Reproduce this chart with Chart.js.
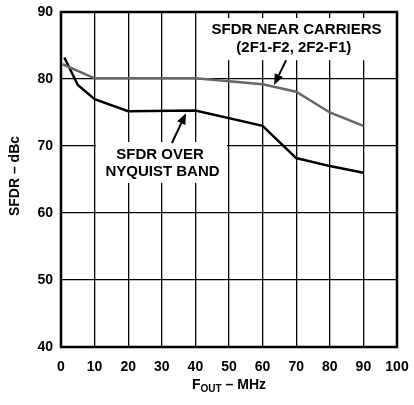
<!DOCTYPE html>
<html>
<head>
<meta charset="utf-8">
<script src="https://cdn.jsdelivr.net/npm/chart.js@4"></script>
<style>
  html, body { margin: 0; padding: 0; background: #fff; }
</style>
</head>
<body>
<canvas id="sfdrChart" width="414" height="405"></canvas>
<script>
// data (F_OUT in MHz, SFDR in dBc)
const nyquistFreq = [1, 5, 10, 20, 40, 60, 70, 80, 90];
const nyquistSfdr = [83.2, 79.1, 77, 75.2, 75.3, 73, 68.2, 67, 66];
const carrierFreq = [0.5, 10, 40, 60, 70, 80, 90];
const carrierSfdr = [82.2, 80.1, 80.1, 79.2, 78.1, 75, 73];
const xTicks = [0, 10, 20, 30, 40, 50, 60, 70, 80, 90, 100];
const yTicks = [40, 50, 60, 70, 80, 90];

const FONT = '"Liberation Sans", Arial, Helvetica, sans-serif';

const toPoints = (xs, ys) => xs.map((x, i) => ({ x: x, y: ys[i] }));

// callouts, in data coordinates
const notes = [
    { box: [10.4, 70.6, 49.4, 64.5],
      lines: [["SFDR OVER", 29.5, 68.66], ["NYQUIST BAND", 30.2, 66.1]],
      arrow: [33.0, 70.45, 37.2, 74.9] },
    { box: [41.4, 89.1, 98.5, 82.8],
      lines: [["SFDR NEAR CARRIERS", 70.1, 87.3], ["(2F1-F2, 2F2-F1)", 69.3, 84.6]],
      arrow: [67.0, 82.8, 63.4, 79.1] }
];

const annotate = {
    id: 'annotate',
    afterDatasetsDraw(chart) {
        const { ctx, chartArea: a, scales: { x, y } } = chart;
        ctx.save();
        notes.forEach(n => {
            const x1 = x.getPixelForValue(n.box[0]), y1 = y.getPixelForValue(n.box[1]);
            const x2 = x.getPixelForValue(n.box[2]), y2 = y.getPixelForValue(n.box[3]);
            ctx.fillStyle = '#fff';
            ctx.fillRect(x1, y1, x2 - x1, y2 - y1);
            ctx.fillStyle = '#000';
            ctx.font = 'bold 15px ' + FONT;
            ctx.textAlign = 'center';
            ctx.textBaseline = 'middle';
            n.lines.forEach(l => ctx.fillText(l[0], x.getPixelForValue(l[1]), y.getPixelForValue(l[2])));
            // arrow
            const tx = x.getPixelForValue(n.arrow[0]), ty = y.getPixelForValue(n.arrow[1]);
            const hx = x.getPixelForValue(n.arrow[2]), hy = y.getPixelForValue(n.arrow[3]);
            const ang = Math.atan2(hy - ty, hx - tx);
            const hl = 11, hw = 4.5;
            const bx = hx - hl * Math.cos(ang), by = hy - hl * Math.sin(ang);
            ctx.strokeStyle = '#000';
            ctx.lineWidth = 2;
            ctx.beginPath();
            ctx.moveTo(tx, ty);
            ctx.lineTo(bx, by);
            ctx.stroke();
            ctx.beginPath();
            ctx.moveTo(hx, hy);
            ctx.lineTo(bx + hw * Math.sin(ang), by - hw * Math.cos(ang));
            ctx.lineTo(bx - hw * Math.sin(ang), by + hw * Math.cos(ang));
            ctx.closePath();
            ctx.fill();
        });
        // frame
        ctx.lineWidth = 2.5;
        ctx.strokeStyle = '#000';
        ctx.strokeRect(a.left, a.top, a.right - a.left, a.bottom - a.top);
        // axis titles
        ctx.fillStyle = '#000';
        ctx.textBaseline = 'middle';
        const cx = (a.left + a.right) / 2;
        const main = 'F', sub = 'OUT', rest = ' \u2013 MHz';
        ctx.font = 'bold 14px ' + FONT;
        const wMain = ctx.measureText(main).width, wRest = ctx.measureText(rest).width;
        ctx.font = 'bold 10px ' + FONT;
        const wSub = ctx.measureText(sub).width;
        let px = cx - (wMain + wSub + wRest) / 2;
        const py = 385;
        ctx.textAlign = 'left';
        ctx.font = 'bold 14px ' + FONT;
        ctx.fillText(main, px, py);
        ctx.font = 'bold 10px ' + FONT;
        ctx.fillText(sub, px + wMain, py + 4);
        ctx.font = 'bold 14px ' + FONT;
        ctx.fillText(rest, px + wMain + wSub, py);
        ctx.translate(15, 176);
        ctx.rotate(-Math.PI / 2);
        ctx.textAlign = 'center';
        ctx.fillText('SFDR \u2013 dBc', 0, 0);
        ctx.restore();
    }
};

new Chart(document.getElementById('sfdrChart'), {
    type: 'line',
    data: {
        datasets: [
            {
                label: 'SFDR near carriers',
                data: toPoints(carrierFreq, carrierSfdr),
                borderColor: '#666',
                borderWidth: 2.5,
                pointRadius: 0,
                tension: 0
            },
            {
                label: 'SFDR over Nyquist band',
                data: toPoints(nyquistFreq, nyquistSfdr),
                borderColor: '#000',
                borderWidth: 2.5,
                pointRadius: 0,
                tension: 0
            }
        ]
    },
    options: {
        responsive: false,
        animation: false,
        layout: { padding: { top: 12, right: 17, left: 0, bottom: 0 } },
        plugins: { legend: { display: false }, tooltip: { enabled: false } },
        scales: {
            x: {
                type: 'linear', min: 0, max: 100,
                afterFit: s => { s.height = 58; s.paddingLeft = 0; s.paddingRight = 0; },
                afterBuildTicks: s => { s.ticks = xTicks.map(v => ({ value: v })); },
                grid: { color: '#000', lineWidth: 1.3, drawTicks: false },
                border: { display: false },
                ticks: { color: '#000', autoSkip: false, font: { family: FONT, size: 14, weight: 'bold' }, padding: 12, maxRotation: 0 }
            },
            y: {
                min: 40, max: 90,
                afterFit: s => { s.width = 61; s.paddingTop = 0; s.paddingBottom = 0; },
                afterBuildTicks: s => { s.ticks = yTicks.map(v => ({ value: v })); },
                grid: { color: '#000', lineWidth: 1.3, drawTicks: false },
                border: { display: false },
                ticks: { color: '#000', autoSkip: false, font: { family: FONT, size: 14, weight: 'bold' }, padding: 8 }
            }
        }
    },
    plugins: [annotate]
});
</script>
</body>
</html>
